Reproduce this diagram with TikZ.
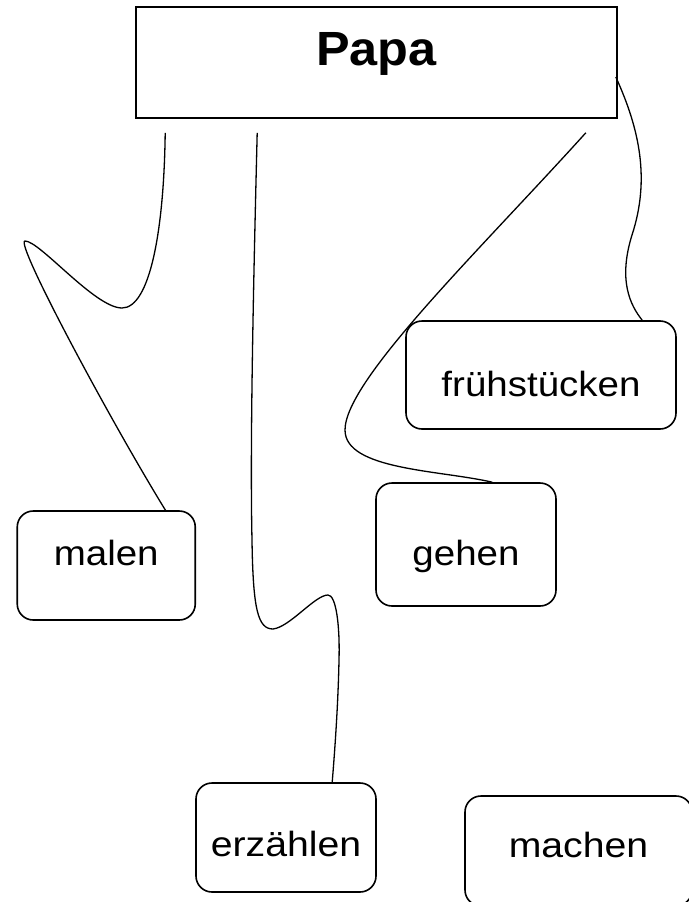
\documentclass[tikz,border=0pt]{standalone}
\usepackage{fontspec}
\setmainfont{Liberation Sans}
\usetikzlibrary{calc}
\newcommand{\wide}[2][1.1]{\scalebox{#1}[1]{#2}}
\begin{document}
\begin{tikzpicture}[x=1pt,y=-1pt,
  wbox/.style={draw,line width=1.6pt,inner sep=0pt,text depth=0pt,
    font=\fontsize{35}{36}\selectfont},
  rbox/.style={wbox,rounded corners=16pt},
  conn/.style={line width=1.3pt}]
\useasboundingbox (0,0) rectangle (688,902);
\node[wbox, minimum width=481pt, minimum height=111pt, text height=5pt,
  font=\bfseries\fontsize{48}{50}\selectfont] (papa) at (376.5,62.5) {\wide[1.05]{Papa}};
\node[rbox, minimum width=178pt, minimum height=109pt, text height=0pt] (malen) at (106.25,565.5) {\wide{malen}};
\node[rbox, minimum width=270pt, minimum height=108pt, text height=42pt] (fruh) at (541,375) {\wide[1.1]{frühstücken}};
\node[rbox, minimum width=180pt, minimum height=123pt, text height=41pt] (gehen) at (466,544.5) {\wide{gehen}};
\node[rbox, minimum width=180pt, minimum height=109pt, text height=37pt] (erz) at (286,837.5) {\wide[1.12]{erzählen}};
\node[rbox, minimum width=227pt, minimum height=110pt, text height=12pt] (machen) at (578.5,851) {\wide[1.12]{machen}};
% connector end points
\coordinate (s1) at ($(papa.south west)+(30,14)$);
\coordinate (e1) at ($(malen.north west)+(149,0)$);
\coordinate (s2) at ($(papa.south west)+(122,14)$);
\coordinate (e2) at ($(erz.north west)+(137,0)$);
\coordinate (s3) at ($(papa.south east)+(-32,14)$);
\coordinate (e3) at ($(gehen.north west)+(117,0)$);
\coordinate (s4) at ($(papa.east)+(-2,14.5)$);
\coordinate (e4) at ($(fruh.north west)+(237,0)$);
% connectors
\draw[conn] (s1) .. controls (164,230) and (150,308) .. (122,308)
  .. controls (95,308) and (40,241) .. (25,241)
  .. controls (14,241) and (110,420) .. (e1);
\draw[conn] (s2) .. controls (253,300) and (250,450) .. (252,540)
  .. controls (253,610) and (258,629) .. (273,629)
  .. controls (290,627) and (315,595) .. (328,595)
  .. controls (336,595) and (340,625) .. (339,660)
  .. controls (338,710) and (334,760) .. (e2);
\draw[conn] (s3) .. controls (480,250) and (345,380) .. (345,430)
  .. controls (345,470) and (440,470) .. (e3);
\draw[conn] (s4) .. controls (640,130) and (650,180) .. (632,235)
  .. controls (618,280) and (630,305) .. (e4);
\end{tikzpicture}
\end{document}
